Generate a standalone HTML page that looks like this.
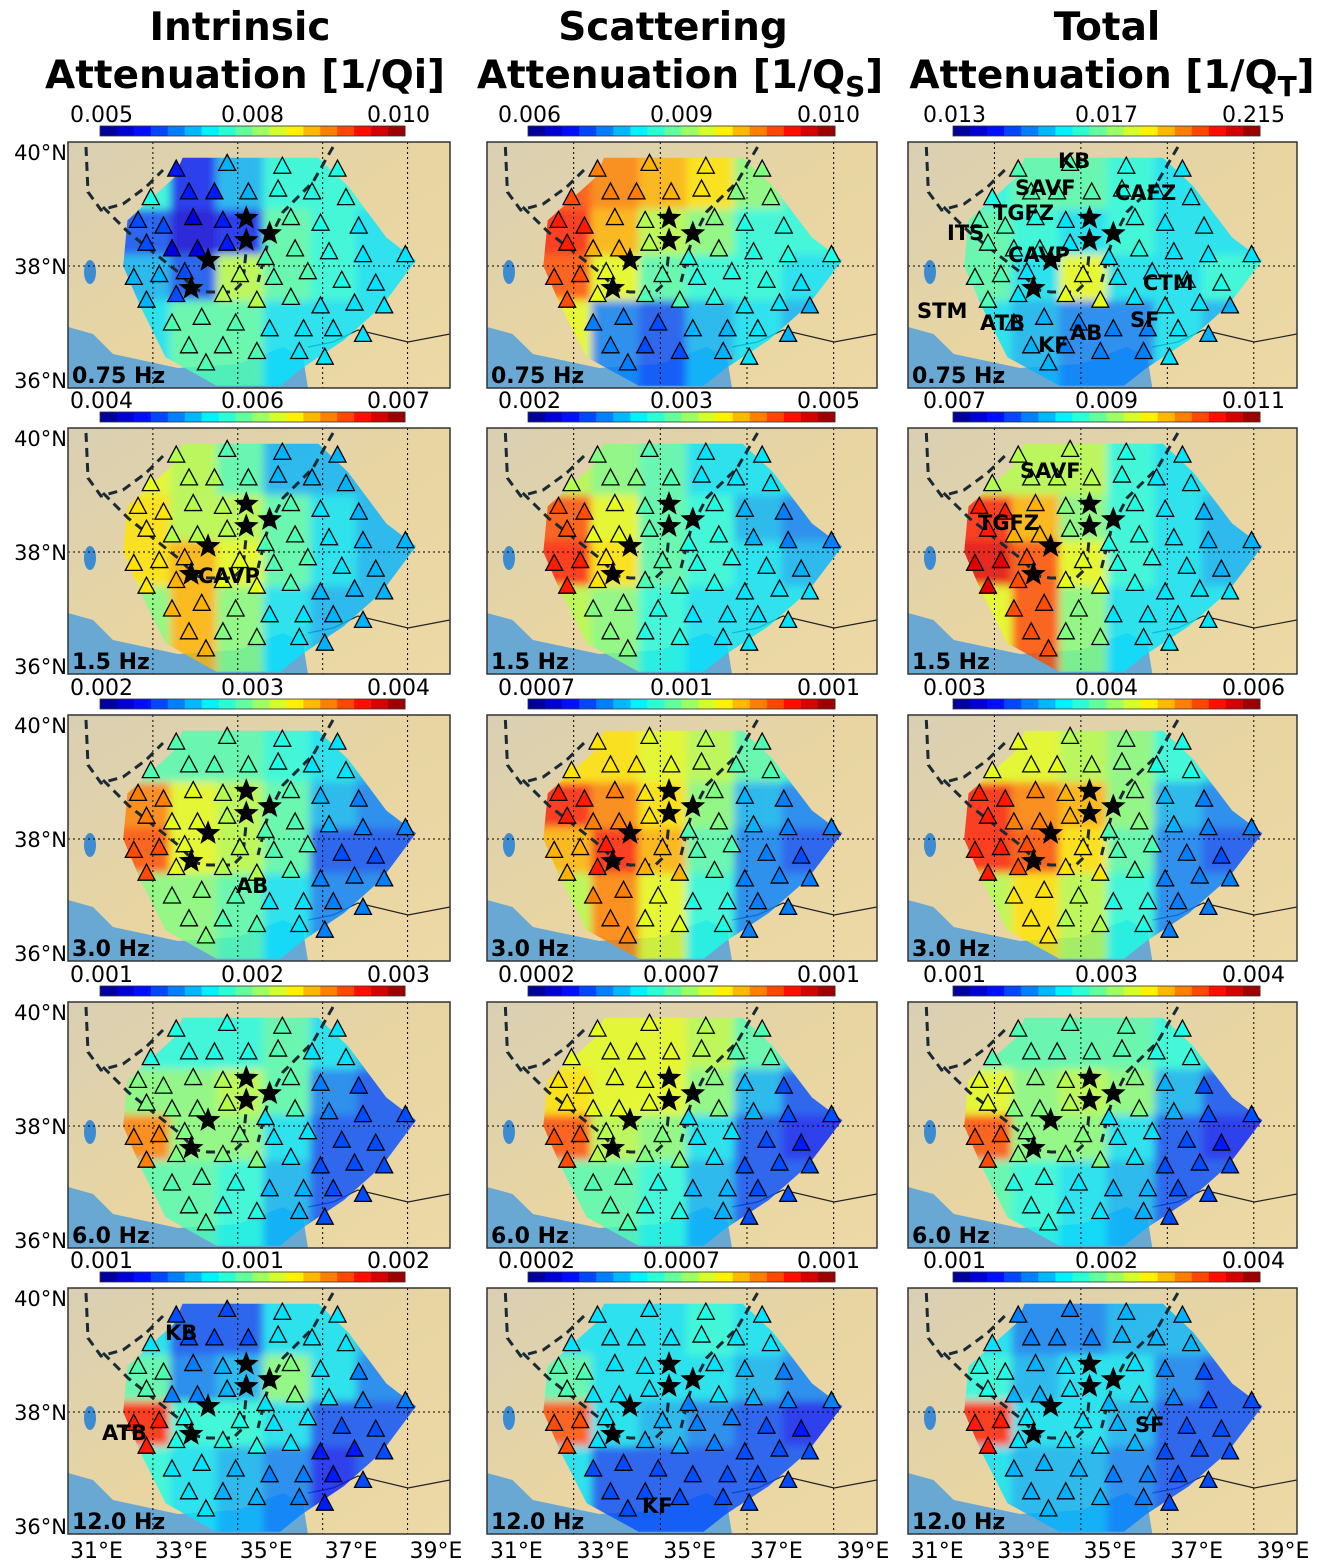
<!DOCTYPE html>
<html><head><meta charset="utf-8"><style>
body{margin:0;background:#fff;}
svg{display:block;}
text{font-family:"DejaVu Sans","Liberation Sans",sans-serif;}
</style></head><body>
<svg id="fig" width="1331" height="1564" viewBox="0 0 1331 1564" xmlns="http://www.w3.org/2000/svg">
<defs>
<filter id="blur" x="-10%" y="-10%" width="120%" height="120%"><feGaussianBlur stdDeviation="4"/></filter>
<linearGradient id="land" x1="0" y1="0" x2="1" y2="1"><stop offset="0" stop-color="#d9cfb3"/><stop offset="0.5" stop-color="#e8d5a2"/><stop offset="1" stop-color="#ecd9a6"/></linearGradient>
</defs>
<g font-weight="bold" font-size="39" text-anchor="middle" fill="#000">
<text x="240" y="40">Intrinsic</text>
<text x="245" y="88" textLength="400">Attenuation [1/Qi]</text>
<text x="673" y="40">Scattering</text>
<text x="680" y="88">Attenuation [1/Q<tspan font-size="28" dy="8">S</tspan><tspan dy="-8">]</tspan></text>
<text x="1107" y="40">Total</text>
<text x="1112" y="88">Attenuation [1/Q<tspan font-size="28" dy="8">T</tspan><tspan dy="-8">]</tspan></text>
</g>
</svg>
<script>
const NS="http://www.w3.org/2000/svg";
const svg=document.getElementById('fig');
const freqs=["0.75 Hz","1.5 Hz","3.0 Hz","6.0 Hz","12.0 Hz"];
const tickLabels=[
 [["0.005","0.008","0.010"],["0.006","0.009","0.010"],["0.013","0.017","0.215"]],
 [["0.004","0.006","0.007"],["0.002","0.003","0.005"],["0.007","0.009","0.011"]],
 [["0.002","0.003","0.004"],["0.0007","0.001","0.001"],["0.003","0.004","0.006"]],
 [["0.001","0.002","0.003"],["0.0002","0.0007","0.001"],["0.001","0.003","0.004"]],
 [["0.001","0.001","0.002"],["0.0002","0.0007","0.001"],["0.001","0.002","0.004"]]];
const gridLon=[31.85,32.95,34.05,35.15,36.25,37.35];
const gridLat=[39.4,38.6,37.8,37.0];
// normalized colormap positions (0..1) per panel, rows = gridLat, cols = gridLon
const panelValues=[
 [[[0.4,0.15,0.3,0.4,0.4,0.4],[0.2,0.1,0.15,0.45,0.4,0.35],[0.3,0.2,0.55,0.45,0.4,0.35],[0.35,0.45,0.45,0.35,0.35,0.35]],
  [[0.8,0.75,0.7,0.65,0.5,0.4],[0.85,0.7,0.55,0.5,0.4,0.4],[0.8,0.6,0.45,0.4,0.4,0.35],[0.6,0.25,0.2,0.3,0.35,0.3]],
  [[0.4,0.45,0.45,0.4,0.35,0.35],[0.45,0.4,0.35,0.4,0.35,0.35],[0.45,0.35,0.6,0.35,0.35,0.4],[0.35,0.3,0.25,0.25,0.35,0.3]]],
 [[[0.6,0.55,0.45,0.3,0.3,0.3],[0.65,0.55,0.55,0.45,0.35,0.3],[0.65,0.7,0.6,0.45,0.35,0.3],[0.5,0.7,0.5,0.35,0.3,0.3]],
  [[0.55,0.5,0.45,0.35,0.35,0.35],[0.8,0.6,0.45,0.4,0.3,0.25],[0.85,0.65,0.45,0.4,0.35,0.3],[0.55,0.5,0.4,0.35,0.35,0.35]],
  [[0.55,0.55,0.55,0.4,0.35,0.35],[0.85,0.7,0.5,0.4,0.35,0.3],[0.9,0.8,0.6,0.4,0.35,0.3],[0.6,0.8,0.5,0.35,0.35,0.35]]],
 [[[0.45,0.45,0.45,0.4,0.35,0.3],[0.75,0.6,0.55,0.45,0.3,0.25],[0.8,0.6,0.55,0.45,0.2,0.2],[0.5,0.5,0.45,0.35,0.25,0.25]],
  [[0.65,0.65,0.6,0.55,0.45,0.4],[0.85,0.75,0.65,0.5,0.3,0.25],[0.7,0.85,0.7,0.45,0.25,0.2],[0.55,0.75,0.6,0.4,0.25,0.25]],
  [[0.6,0.6,0.55,0.5,0.4,0.35],[0.85,0.75,0.7,0.5,0.3,0.25],[0.85,0.8,0.65,0.45,0.25,0.2],[0.55,0.65,0.55,0.4,0.25,0.25]]],
 [[[0.4,0.4,0.4,0.45,0.35,0.3],[0.5,0.5,0.55,0.45,0.25,0.2],[0.75,0.5,0.5,0.35,0.2,0.2],[0.45,0.45,0.4,0.3,0.2,0.2]],
  [[0.6,0.6,0.6,0.55,0.45,0.35],[0.65,0.6,0.6,0.5,0.3,0.2],[0.8,0.55,0.5,0.35,0.2,0.15],[0.45,0.45,0.4,0.3,0.2,0.2]],
  [[0.45,0.45,0.45,0.45,0.4,0.35],[0.6,0.5,0.55,0.5,0.3,0.2],[0.8,0.5,0.5,0.35,0.2,0.15],[0.45,0.4,0.35,0.3,0.2,0.2]]],
 [[[0.35,0.2,0.2,0.35,0.35,0.3],[0.45,0.25,0.3,0.5,0.35,0.25],[0.85,0.4,0.4,0.35,0.2,0.2],[0.4,0.35,0.3,0.25,0.15,0.2]],
  [[0.35,0.35,0.35,0.4,0.35,0.3],[0.45,0.35,0.35,0.35,0.3,0.25],[0.8,0.35,0.3,0.25,0.2,0.15],[0.35,0.2,0.2,0.2,0.2,0.2]],
  [[0.35,0.25,0.25,0.3,0.3,0.3],[0.4,0.3,0.35,0.35,0.25,0.2],[0.85,0.35,0.35,0.3,0.2,0.2],[0.35,0.3,0.3,0.25,0.2,0.2]]]];
const stationLon=[32.55,33.75,35.05,36.35,31.95,32.85,33.45,34.25,34.95,35.75,36.55,31.65,32.25,32.95,33.65,35.25,35.95,36.85,31.85,32.45,33.05,33.75,34.65,35.35,36.15,36.95,37.95,31.55,32.15,32.75,34.05,34.85,35.65,36.45,37.25,31.85,32.55,33.65,34.45,35.25,35.95,36.75,37.45,32.45,33.15,33.95,34.75,35.55,36.25,36.95,32.85,33.65,34.45,35.45,36.05,33.25];
const stationLat=[39.7,39.8,39.75,39.7,39.2,39.3,39.3,39.3,39.35,39.3,39.2,38.8,38.7,38.85,38.8,38.85,38.75,38.7,38.4,38.3,38.3,38.4,38.15,38.3,38.25,38.2,38.2,37.8,37.85,37.9,37.85,37.8,37.9,37.75,37.7,37.4,37.5,37.5,37.4,37.45,37.3,37.35,37.3,37.0,37.1,37.0,36.9,36.9,36.9,36.8,36.6,36.6,36.5,36.5,36.4,36.3];
const starLon=[34.2,34.2,34.75,33.3,32.9];
const starLat=[38.84,38.45,38.57,38.1,37.61];
const hullLon=[31.4,32.5,32.7,35.9,36.6,37.5,38.2,37.4,36.5,35.5,35.0,33.5,32.3,31.7,31.3];
const hullLat=[38.8,39.55,39.9,39.9,39.4,38.5,38.1,37.3,36.7,36.2,35.9,35.9,36.4,37.3,38.0];

const colX=[68,487,908], colW=[382,390,389];
const rowY=[142,428,715,1002,1288], H=246;
const cbX=[[100,405],[528,835],[953,1260]];

function jet(v){v=Math.max(0,Math.min(1,v));
 const f=t=>Math.round(255*Math.max(0,Math.min(1,1.5-Math.abs(4*v-t))));
 return `rgb(${f(3)},${f(2)},${f(1)})`;}
function el(tag,a,parent){const e=document.createElementNS(NS,tag);for(const k in a)e.setAttribute(k,a[k]);(parent||svg).appendChild(e);return e;}
function cellValue(vals,lon,lat){let bi=0,bj=0,bd=1e9;
 gridLat.forEach((la,i)=>gridLon.forEach((lo,j)=>{const d=(la-lat)**2+((lo-lon)*0.75)**2;if(d<bd){bd=d;bi=i;bj=j;}}));return vals[bi][bj];}

for(let r=0;r<5;r++)for(let c=0;c<3;c++){
 const X0=colX[c],Y0=rowY[r],W=colW[c],ppd=W/9;
 const xs=lon=>X0+(lon-30)*ppd, ys=lat=>Y0+10+(40-lat)*57;
 const vals=panelValues[r][c], id=`p${r}${c}`;
 const g=el('g',{});
 
 
 const cp=el('clipPath',{id:'clip'+id},g);
 el('rect',{x:X0,y:Y0,width:W,height:H},cp);
 const inner=el('g',{'clip-path':`url(#clip${id})`},g);
 const land=el('rect',{x:X0,y:Y0,width:W,height:H,fill:'url(#land)'},inner);
 
 
 const seaPts=[[0,185],[25,192],[45,212],[110,226],[170,222],[215,205],[235,215],[240,246],[0,246]].map(p=>`${X0+p[0]*W/382},${Y0+p[1]}`).join(' ');
 const sea=el('polygon',{points:seaPts,fill:'#6aa8d4'},inner);
 
 
 const lake=el('ellipse',{cx:X0+22,cy:Y0+130,rx:6,ry:12,fill:'#3d8bd0'},inner);
 
 
 const border=el('polyline',{points:`${X0+240*W/382},${Y0+205} ${X0+265*W/382},${Y0+200} ${X0+290*W/382},${Y0+188} ${X0+340*W/382},${Y0+200} ${X0+W},${Y0+192}`,fill:'none',stroke:'#222','stroke-width':1.2},inner);
 
 
 const hc=el('clipPath',{id:'hull'+id},g);
 el('polygon',{points:hullLon.map((lo,i)=>`${xs(lo)},${ys(hullLat[i])}`).join(' ')},hc);
 const hg=el('g',{'clip-path':`url(#hull${id})`,opacity:0.8},inner);
 
 
 const bg=el('g',{filter:'url(#blur)'},hg);
 const dLon=1.1,dLat=0.8;
 gridLat.forEach((la,i)=>gridLon.forEach((lo,j)=>{
  let l0=lo-dLon/2,l1=lo+dLon/2,a0=la+dLat/2,a1=la-dLat/2;
  if(j==0)l0-=1; if(j==gridLon.length-1)l1+=1.5; if(i==0)a0+=0.6; if(i==gridLat.length-1)a1-=0.8;
  const cell=el('rect',{x:xs(l0),y:ys(a0),width:xs(l1)-xs(l0)+1,height:ys(a1)-ys(a0)+1,fill:jet(vals[i][j])},bg);
  
  
 }));
 [32,34,36,38].forEach(lo=>{const l=el('line',{x1:xs(lo),x2:xs(lo),y1:Y0,y2:Y0+H,stroke:'#000','stroke-width':1,'stroke-dasharray':'2,3'},inner);
  
  });
 const pl=el('line',{x1:X0,x2:X0+W,y1:ys(38),y2:ys(38),stroke:'#000','stroke-width':1,'stroke-dasharray':'2,3'},inner);
 
 
 const f1=[[18,5],[20,50],[33,68],[55,62],[78,45],[95,28]];
 const f2=[[35,65],[60,90],[85,110],[110,130],[128,148],[140,150],[165,150],[175,140],[178,110]];
 const f3=[[265,5],[245,40],[215,70],[200,100],[195,120],[190,140]];
 [f1,f2,f3].forEach(f=>{const p=el('polyline',{points:f.map(q=>`${X0+q[0]*W/382},${Y0+q[1]}`).join(' '),fill:'none',stroke:'#1a2a35','stroke-width':3,'stroke-dasharray':'9,6'},inner);
  
  });
 stationLon.forEach((lo,k)=>{const x=xs(lo),y=ys(stationLat[k]);
  const t=el('polygon',{points:`${x},${y-9} ${x-8.5},${y+7} ${x+8.5},${y+7}`,fill:jet(cellValue(vals,lo,stationLat[k])),stroke:'#000','stroke-width':1.3},inner);
  
  });
 starLon.forEach((lo,k)=>{const x=xs(lo),y=ys(starLat[k]);let pts=[];
  for(let q=0;q<10;q++){const rr=q%2?5.5:13,an=-Math.PI/2+q*Math.PI/5;pts.push(`${x+rr*Math.cos(an)},${y+rr*Math.sin(an)}`);}
  const s=el('polygon',{points:pts.join(' '),fill:'#000'},inner);
  
  });
 const ft=el('text',{x:X0+4,y:Y0+H-5,'font-size':22,'font-weight':'bold',fill:'#000'},inner);
 ft.textContent=freqs[r];
 
 
 const fr=el('rect',{x:X0,y:Y0,width:W,height:H,fill:'none',stroke:'#333','stroke-width':1.5},g);
 
 
 const cb=el('g',{},svg);
 
 
 const cx0=cbX[c][0],cx1=cbX[c][1],n=18,sw=(cx1-cx0)/n;
 for(let q=0;q<n;q++){const s=el('rect',{x:cx0+q*sw,y:Y0-16,width:sw+0.5,height:10,fill:jet((q+0.5)/n)},cb);
  
  }
 el('rect',{x:cx0,y:Y0-16,width:cx1-cx0,height:10,fill:'none',stroke:'#333','stroke-width':0.8},cb);
 const tl=tickLabels[r][c];
 [[cx0-30,'start'],[(cx0+cx1)/2,'middle'],[cx1+25,'end']].forEach((p,q)=>{
  const t=el('text',{x:p[0],y:Y0-20,'font-size':22,'text-anchor':p[1],fill:'#000'},cb);
  t.textContent=tl[q];
  
  });
 if(c==0){[40,38,36].forEach(la=>{const t=el('text',{x:X0-1,y:ys(la)+8,'font-size':21,'text-anchor':'end',fill:'#000'});
  t.textContent=la+'°N';
  
  });}
 if(r==4){[31,33,35,37,39].forEach(lo=>{const t=el('text',{x:xs(lo)-14,y:Y0+H+24,'font-size':22,'text-anchor':'middle',fill:'#000'});
  t.textContent=lo+'°E';
  
  });}
}
const notes=[[1058,168,"KB"],[1015,195,"SAVF"],[1115,200,"CAFZ"],[993,220,"TGFZ"],[947,240,"ITS"],[1008,262,"CAVP"],[1143,290,"CTM"],[917,318,"STM"],[980,330,"ATB"],[1070,340,"AB"],[1130,327,"SF"],[1038,352,"KF"],
 [1020,478,"SAVF"],[978,530,"TGFZ"],[198,583,"CAVP"],[236,893,"AB"],[165,1340,"KB"],[102,1440,"ATB"],[642,1513,"KF"],[1135,1432,"SF"]];
notes.forEach(n=>{const t=el('text',{x:n[0],y:n[1],'font-size':21,'font-weight':'bold',fill:'#000'});
 t.textContent=n[2];
 
 });
</script>
</body></html>
